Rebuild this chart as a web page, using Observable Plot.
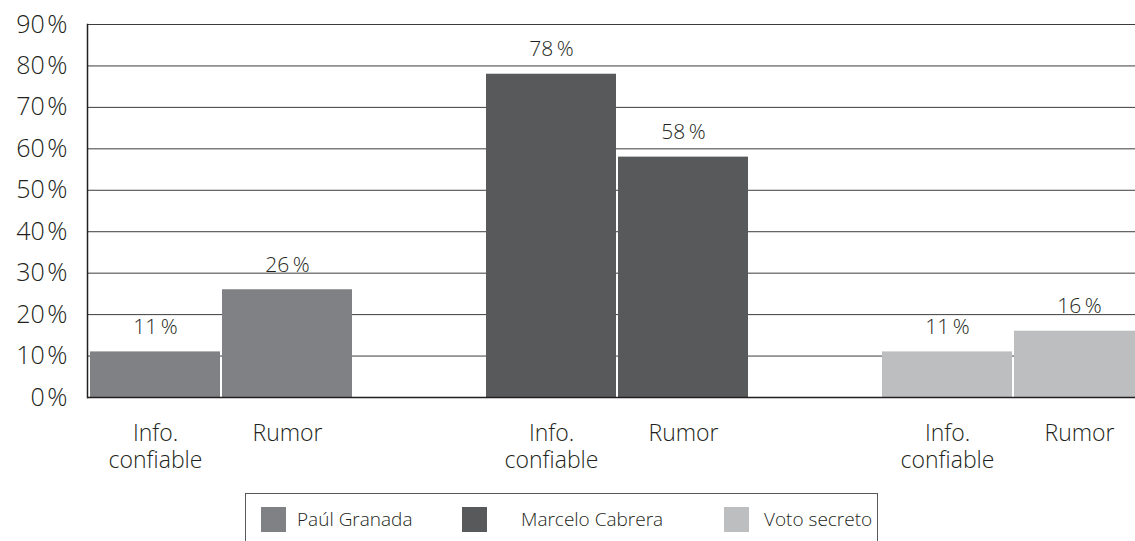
<!DOCTYPE html>
<html>
<head>
<meta charset="utf-8">
<script src="https://cdn.jsdelivr.net/npm/d3@7"></script>
<script src="https://cdn.jsdelivr.net/npm/@observablehq/plot@0.6"></script>
<style>
  html, body { margin: 0; padding: 0; background: #fff; overflow: hidden; }
  body { font-family: "Open Sans", sans-serif; font-weight: 300; color: #231f20; width: 1135px; height: 541px; position: relative; }
  #legend { position: absolute; left: 245px; top: 493px; width: 633px; height: 60px;
            border: 1px solid #58595b; box-sizing: border-box; }
  .item { position: absolute; top: 13px; height: 25px; display: flex; align-items: center; }
  .sw { width: 25px; height: 25px; flex: none; }
  .lab { font-size: 19px; line-height: 25px; white-space: nowrap; }
</style>
</head>
<body>
<div id="chart"></div>
<div id="legend"></div>
<script>
// Who people would vote for, split by the kind of information they rely on
const candidates = ["Paúl Granada", "Marcelo Cabrera", "Voto secreto"];
const sources = ["Info. confiable", "Rumor"];
const infoConfiable = [11, 78, 11];
const rumor = [26, 58, 16];
const colors = ["#808184", "#58595b", "#bcbec0"];
const yTicks = [0, 10, 20, 30, 40, 50, 60, 70, 80, 90];

// Legend layout: swatch left edge and gap to the label, per entry
const legendLeft = [15, 216, 478];
const legendGap = [11, 34, 15];

const seriesValues = [infoConfiable, rumor];
const pct = v => v + "\u2009%";
const axisPct = v => v + "\u200a%";

// One band slot per bar, with an empty slot between candidate groups
const slots = [];
const rows = [];
candidates.forEach((c, i) => {
  sources.forEach((s, j) => {
    const key = c + "|" + s;
    slots.push(key);
    rows.push({key, candidate: c, source: s, value: seriesValues[j][i]});
  });
  if (i < candidates.length - 1) slots.push("gap" + i);
});
const barKeys = rows.map(d => d.key);
const sourceLabel = key => key.split("|")[1].replace(". ", ".\n");

const chart = Plot.plot({
  width: 1135,
  height: 485,
  marginLeft: 87,
  marginRight: 0,
  marginTop: 24,
  marginBottom: 88,
  style: {fontFamily: "'Open Sans', sans-serif", fontWeight: 300, color: "#231f20", background: "white", overflow: "hidden"},
  x: {type: "band", domain: slots, range: [88, 1147], paddingInner: 0.015, paddingOuter: 0, label: null},
  y: {domain: [0, 90], label: null},
  color: {domain: candidates, range: colors},
  marks: [
    Plot.ruleY(yTicks.filter(d => d > 0), {stroke: "#3c3c3c", strokeWidth: 1}),
    Plot.barY(rows, {x: "key", y: "value", fill: "candidate", clip: true}),
    Plot.ruleY([0], {stroke: "#231f20", strokeWidth: 1.5}),
    Plot.frame({anchor: "left", stroke: "#231f20", strokeWidth: 1.5}),
    Plot.axisY({ticks: yTicks, tickSize: 0, tickPadding: 20, tickFormat: axisPct, fontSize: 25, label: null}),
    Plot.axisX({ticks: barKeys, tickSize: 0, tickPadding: 25, tickFormat: sourceLabel,
                fontSize: 23, lineHeight: 1.16, label: null}),
    Plot.text(rows, {x: "key", y: "value", text: d => pct(d.value), dy: -18,
                     lineAnchor: "bottom", fontSize: 21})
  ]
});
document.getElementById("chart").appendChild(chart);

// Legend box below the chart
const legend = document.getElementById("legend");
candidates.forEach((c, i) => {
  const item = document.createElement("div");
  item.className = "item";
  item.style.left = legendLeft[i] + "px";
  const sw = document.createElement("div");
  sw.className = "sw";
  sw.style.background = colors[i];
  const lab = document.createElement("span");
  lab.className = "lab";
  lab.style.marginLeft = legendGap[i] + "px";
  lab.textContent = c;
  item.appendChild(sw);
  item.appendChild(lab);
  legend.appendChild(item);
});
</script>
</body>
</html>
